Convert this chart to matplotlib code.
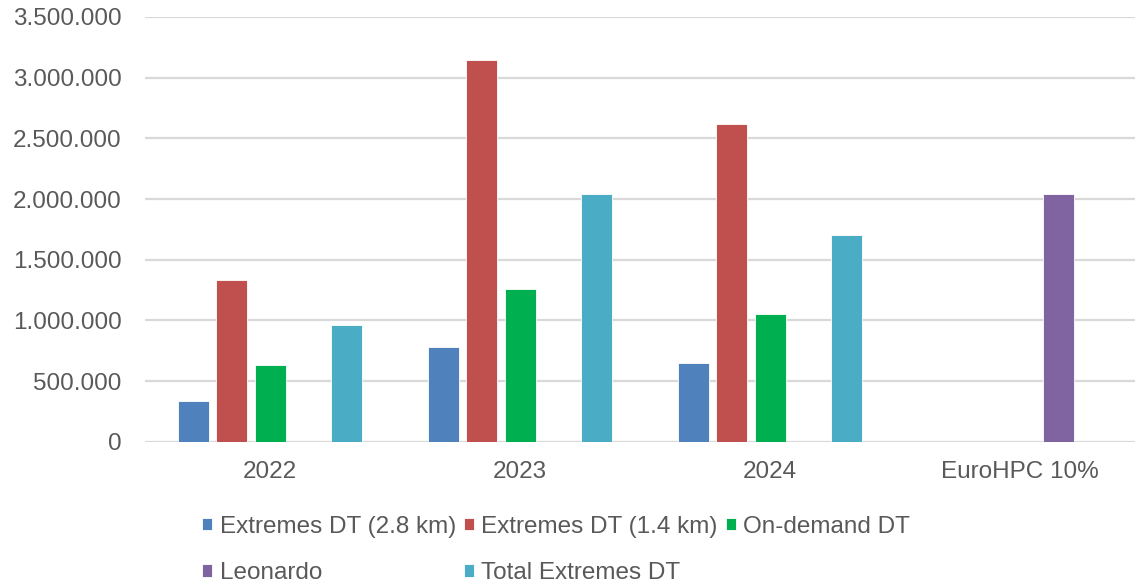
import matplotlib.pyplot as plt
import matplotlib.ticker as mticker
import numpy as np

plt.rcParams['font.family'] = ['Liberation Sans', 'DejaVu Sans']

# categorias e séries
categorias = ['2022', '2023', '2024', 'EuroHPC 10%']
ext_28 = [332000, 780000, 651000, np.nan]
ext_14 = [1335000, 3143000, 2621000, np.nan]
on_demand = [633000, 1258000, 1049000, np.nan]
leonardo = [np.nan, np.nan, np.nan, 2043000]
total_ext = [962000, 2043000, 1704000, np.nan]

series = [
    ('Extremes DT (2.8 km)', ext_28, '#4F81BD'),
    ('Extremes DT (1.4 km)', ext_14, '#C0504D'),
    ('On-demand DT', on_demand, '#00B050'),
    ('Leonardo', leonardo, '#8064A2'),
    ('Total Extremes DT', total_ext, '#4BACC6'),
]

fig = plt.figure(figsize=(11.35, 5.84), dpi=100)
ax = fig.add_axes([0.1278, 0.2437, 0.881, 0.7272])

x = np.arange(len(categorias))
passo = 0.153   # distância entre barras do mesmo grupo
largura = 0.124
barras = {}
for i, (nome, vals, cor) in enumerate(series):
    barras[nome] = ax.bar(x + (i - 2) * passo, vals, largura, color=cor,
                          edgecolor='white', linewidth=0.6, label=nome, zorder=3)

ax.set_xlim(-0.5, 3.5)
ax.set_ylim(0, 3500000)
ax.set_yticks(np.arange(0, 3500001, 500000))
ax.yaxis.set_major_formatter(mticker.FuncFormatter(lambda v, p: f'{int(v):,}'.replace(',', '.')))
ax.set_xticks(x)
ax.set_xticklabels(categorias)

ax.grid(axis='y', color='#d9d9d9', linewidth=1.6, zorder=0)
for s in ax.spines.values():
    s.set_visible(False)
ax.tick_params(axis='both', length=0, labelsize=17.5, labelcolor='#595959')
ax.tick_params(axis='y', pad=17)
ax.tick_params(axis='x', pad=14)

# ordem das entradas para a legenda ficar em duas linhas como coluna
ordem = ['Extremes DT (2.8 km)', 'Leonardo', 'Extremes DT (1.4 km)',
         'Total Extremes DT', 'On-demand DT']
leg = fig.legend([barras[n] for n in ordem], ordem, ncol=3, loc='upper left',
                 bbox_to_anchor=(0.178, 0.117), frameon=False, fontsize=17.5,
                 handlelength=0.42, handleheight=0.42, handletextpad=0.3,
                 columnspacing=0.33, labelspacing=1.0, borderpad=0, borderaxespad=0)
for t in leg.get_texts():
    t.set_color('#595959')

fig.savefig('out.png', dpi=100)
